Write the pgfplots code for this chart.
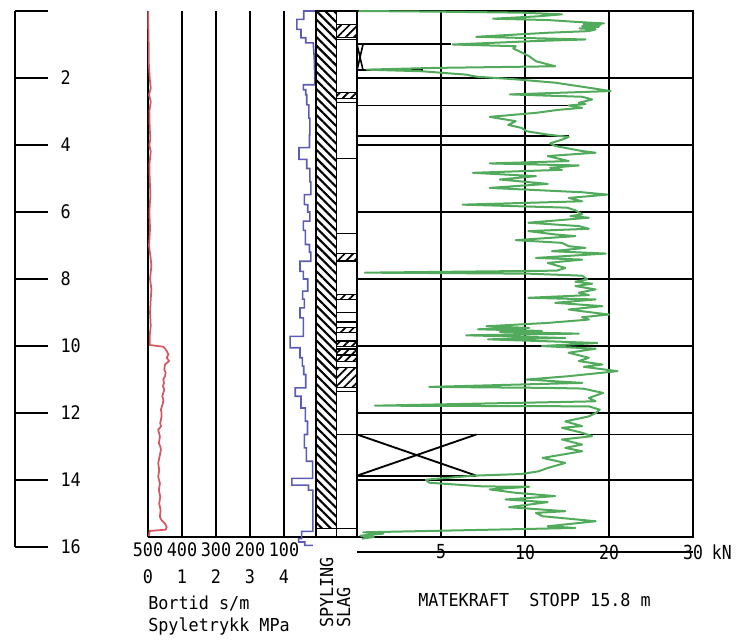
\documentclass[border=0pt]{standalone}
\usepackage{fontspec}
\usepackage{pgfplots}
\pgfplotsset{compat=1.18}
\usetikzlibrary{patterns.meta}

% plotter-like monospaced lettering
\newfontfamily\numfam[FakeStretch=0.9]{DejaVu Sans Mono}
\newfontfamily\txtfam[FakeStretch=0.94]{DejaVu Sans Mono}
\newfontfamily\knfam[FakeStretch=0.85]{DejaVu Sans Mono}
\newcommand\numfont{\numfam\fontsize{14}{16}\selectfont}
\newcommand\txtfont{\txtfam\fontsize{13.4}{16}\selectfont}
\newcommand\knfont{\knfam\fontsize{14.5}{16}\selectfont}

\definecolor{trykkred}{RGB}{214,86,98}
\definecolor{bortidblue}{RGB}{92,92,182}
\definecolor{kraftgreen}{RGB}{82,170,92}

% every log column shares the depth scale 0--15.7 m, depth increasing downwards
\pgfplotsset{
  logpanel/.style={
    scale only axis, anchor=north west, height=394.5pt,
    ymin=-15.7, ymax=0, y filter/.expression={-y},
    clip=false,
    /pgf/number format/assume math mode=true,
  },
}

% hammering (SLAG) intervals and separators in the second column
\newcommand\slagseg[2]{\addplot[draw=black, line width=0.9pt,
  pattern={Lines[angle=45,distance=4.4pt,line width=1.3pt]}]
  coordinates {(1,#1) (2,#1) (2,#2) (1,#2) (1,#1)};}
\newcommand\slagline[1]{\addplot[black, line width=0.9pt] coordinates {(1,#1) (2,#1)};}

\begin{document}
\begin{tikzpicture}[x=0.75pt,y=0.75pt]
\path[use as bounding box] (0,0) rectangle (738,640);

% ---------------- depth scale (m) ----------------
\begin{axis}[
  at={(11.25pt,471.75pt)}, anchor=north west, scale only axis,
  width=24.75pt, height=402pt,
  xmin=0, xmax=1, ymin=-16, ymax=0,
  hide x axis, axis y line=left, axis line style={-, line width=1.2pt},
  ytick={-16,-14,...,0}, yticklabels={16,14,12,10,8,6,4,2,{}},
  tick align=inside, major tick length=24.75pt,
  ytick style={line width=1.2pt, black},
  yticklabel style={font=\numfont, anchor=west, inner sep=0pt, xshift=34pt},
  /pgf/number format/assume math mode=true,
]
\end{axis}

% ---------------- spyletrykk (MPa) ----------------
\begin{axis}[logpanel, at={(111pt,471.75pt)}, width=127.5pt,
  xmin=0, xmax=5,
  axis line style={draw=none}, tick style={draw=none},
  xtick={0,...,4}, ytick=\empty,
  xmajorgrids, major grid style={black, line width=1.3pt},
  xticklabel style={font=\numfont, anchor=center, inner sep=0pt, yshift=-30pt},
]
\addplot[trykkred, line width=1.3pt] coordinates {
(0.01,0) (0.01,0.5) (0.02,1.0) (0.02,1.5) (0.05,2.0) (0.08,2.3) (0.03,2.5)
(0.08,2.7) (0.04,3.0) (0.05,3.5) (0.07,3.8) (0.04,4.0) (0.08,4.2) (0.04,4.6)
(0.05,5.0) (0.07,5.5) (0.04,6.0) (0.06,6.5) (0.03,7.0) (0.08,7.4) (0.10,7.6)
(0.06,8.0) (0.10,8.3) (0.08,8.6) (0.06,9.0) (0.08,9.4) (0.05,9.7) (0.05,9.97)
(0.45,10.02) (0.50,10.08) (0.55,10.15) (0.60,10.25) (0.55,10.35) (0.62,10.45)
(0.50,10.55) (0.48,10.7) (0.52,10.8) (0.50,10.9) (0.45,11.0) (0.47,11.1)
(0.44,11.2) (0.48,11.3) (0.42,11.5) (0.45,11.6) (0.44,11.7) (0.38,11.9)
(0.40,12.0) (0.40,12.1) (0.36,12.3) (0.38,12.4) (0.30,12.5) (0.35,12.7)
(0.32,12.9) (0.36,13.0) (0.38,13.1) (0.34,13.3) (0.30,13.5) (0.33,13.7)
(0.30,13.9) (0.35,14.1) (0.32,14.3) (0.36,14.5) (0.33,14.7) (0.37,14.9)
(0.35,15.1) (0.40,15.2) (0.50,15.3) (0.55,15.4) (0.52,15.48) (0.05,15.52)
(0.02,15.7)
};
\draw[black, line width=1.3pt] (axis description cs:0,0) -- (axis description cs:1,0);
\end{axis}

% ---------------- bortid (s/m), reversed scale ----------------
\begin{axis}[logpanel, at={(111pt,471.75pt)}, width=127.5pt,
  xmin=0, xmax=500, x dir=reverse,
  axis line style={draw=none}, tick style={draw=none},
  xtick={100,200,...,500}, ytick=\empty,
  xticklabel style={font=\numfont, anchor=center, inner sep=0pt, yshift=-9.75pt},
]
\addplot[bortidblue, line width=1.2pt] coordinates {
(8,0) (42,0) (42,0.25) (62,0.25) (62,0.55) (50,0.55) (50,0.80) (36,0.80)
(36,0.95) (14,0.95) (11,1.4) (9,2.2) (43,2.2) (43,2.35) (36,2.35) (36,2.50)
(33,2.50) (33,2.80) (27,2.80) (27,3.20) (24,3.20) (24,3.70) (25,3.70)
(25,4.08) (56,4.08) (56,4.43) (33,4.43) (33,4.70) (24,4.70) (24,5.10)
(21,5.10) (21,5.48) (40,5.48) (40,5.78) (30,5.78) (30,6.00) (24,6.00)
(24,6.27) (43,6.27) (43,6.55) (37,6.55) (37,6.97) (25,6.97) (25,7.20)
(21,7.20) (21,7.47) (53,7.47) (53,7.77) (43,7.77) (43,8.00) (30,8.00)
(30,8.36) (45,8.36) (45,8.60) (40,8.60) (40,8.86) (53,8.86) (53,9.16)
(43,9.16) (43,9.71) (82,9.71) (82,10.05) (53,10.05) (53,10.35) (46,10.35)
(46,10.60) (42,10.60) (42,10.85) (36,10.85) (36,11.25) (67,11.25) (67,11.50)
(50,11.50) (50,11.85) (37,11.85) (37,12.24) (31,12.24) (31,12.64) (40,12.64)
(40,13.04) (34,13.04) (34,13.44) (16,13.44) (16,13.95) (77,13.95) (77,14.15)
(28,14.15) (28,14.30) (15,14.30) (15,15.53) (48,15.53) (48,15.75) (57,15.75)
(57,15.85) (39,15.85) (39,15.95) (15,15.95)
};
\end{axis}

% ---------------- SPYLING / SLAG columns ----------------
\begin{axis}[logpanel, at={(237pt,471.75pt)}, width=30.75pt,
  xmin=0, xmax=2, hide axis,
]
\addplot[draw=black, line width=1.2pt,
  pattern={Lines[angle=-45,distance=4.6pt,line width=1.6pt]}]
  coordinates {(0,0) (1,0) (1,15.45) (0,15.45) (0,0)};
\slagseg{0.40}{0.79}
\slagseg{2.43}{2.61}
\slagseg{7.24}{7.45}
\slagseg{8.46}{8.61}
\slagseg{9.45}{9.60}
\slagseg{9.85}{10.02}
\slagseg{10.09}{10.26}
\slagseg{10.29}{10.46}
\slagseg{10.64}{11.24}
\slagline{0.85}
\slagline{2.73}
\slagline{4.40}
\slagline{6.65}
\slagline{7.48}
\slagline{9.00}
\slagline{9.28}
\slagline{11.36}
\slagline{12.64}
\addplot[black, line width=1.2pt] coordinates {(0,15.45) (2,15.45)};
\draw[black, line width=1.2pt] (axis description cs:0,0) rectangle (axis description cs:1,1);
\draw[black, line width=1.2pt] (axis description cs:0.5,0) -- (axis description cs:0.5,1);
\end{axis}

% ---------------- matekraft (kN), scale 0-10 then 10-30 halved ----------------
\begin{axis}[logpanel, at={(267.75pt,471.75pt)}, width=252pt,
  xmin=0, xmax=20,
  x filter/.expression={x<10 ? x : 10+(x-10)/2},
  axis line style={black, line width=1.3pt},
  xtick={5,10,15,20}, xticklabels={5,10,20,30},
  ytick={-14,-12,...,-2}, yticklabels={},
  grid=major, major grid style={black, line width=1.3pt},
  major tick length=0pt,
  xticklabel style={font=\knfont, anchor=center, inner sep=0pt, yshift=-11.25pt},
]
% rotation marks and stop lines
\addplot[black, line width=1.4pt] coordinates {(0,0.99) (5.6,0.99)};
\addplot[black, line width=1.4pt] coordinates {(0,1.77) (3.9,1.77)};
\addplot[black, line width=1.2pt] coordinates {(0,0.99) (0.36,1.77)};
\addplot[black, line width=1.2pt] coordinates {(0.36,0.99) (0,1.77)};
\addplot[black, line width=1.4pt] coordinates {(0,2.82) (15.5,2.82)};
\addplot[black, line width=1.4pt] coordinates {(0,3.74) (15.2,3.74)};
\addplot[black, line width=1.4pt] coordinates {(0,12.64) (30,12.64)};
\addplot[black, line width=1.4pt] coordinates {(0,13.87) (7.1,13.87)};
\addplot[black, line width=1.4pt] coordinates {(0,12.64) (7.1,13.87)};
\addplot[black, line width=1.4pt] coordinates {(7.1,12.64) (0,13.87)};
\addplot[kraftgreen, line width=1.5pt, line join=round] coordinates {
(0.1,0.0) (4.9,0.02) (9.8,0.05) (14.4,0.1) (11.5,0.16) (8.1,0.23) (12.7,0.27)
(16.4,0.33) (19.4,0.37) (17.0,0.39) (19.0,0.41) (16.8,0.45) (18.8,0.47)
(17.2,0.49) (18.4,0.5) (16.5,0.52) (18.4,0.55) (17.6,0.6) (12.7,0.65)
(7.1,0.77) (17.2,0.85) (10.9,0.9) (5.7,1.0) (9.45,1.05) (9.3,1.12) (9.65,1.2)
(10.5,1.35) (11.3,1.5) (13.6,1.65) (4.5,1.7) (0.57,1.75) (3.9,1.8) (6.5,1.9)
(7.1,1.96) (9.45,2.04) (13.6,2.14) (16.8,2.26) (20.2,2.39) (9.1,2.49)
(16.8,2.56) (18.0,2.64) (16.4,2.74) (17.2,2.78) (15.2,2.82) (16.8,2.89)
(14.0,2.95) (11.3,3.04) (7.9,3.16) (9.45,3.29) (9.0,3.4) (9.8,3.49)
(10.2,3.59) (12.7,3.69) (15.2,3.76) (14.4,3.84) (13.0,3.95) (13.6,4.03)
(16.8,4.18) (18.4,4.23) (12.7,4.33) (15.2,4.48) (7.9,4.55) (16.4,4.61)
(13.0,4.68) (14.4,4.74) (6.9,4.83) (11.3,4.93) (8.5,5.03) (12.7,5.16)
(7.9,5.28) (16.8,5.41) (19.8,5.48) (15.2,5.58) (16.8,5.68) (6.3,5.78)
(15.0,5.87) (16.0,5.95) (16.8,6.07) (15.4,6.12) (17.6,6.17) (10.4,6.32)
(16.4,6.42) (17.6,6.5) (10.4,6.57) (13.6,6.67) (16.0,6.72) (9.45,6.84)
(14.4,6.92) (15.2,7.02) (17.2,7.07) (13.2,7.17) (19.6,7.24) (11.3,7.37)
(16.8,7.42) (12.7,7.52) (14.8,7.67) (13.8,7.75) (0.47,7.81) (4.2,7.82)
(10.4,7.84) (16.8,7.9) (17.4,8.01) (16.0,8.08) (18.0,8.14) (16.0,8.21)
(18.4,8.31) (16.4,8.41) (17.6,8.48) (10.4,8.56) (18.4,8.61) (13.6,8.71)
(19.2,8.81) (15.2,8.91) (17.4,8.98) (20.0,9.06) (16.8,9.14) (17.6,9.21)
(12.7,9.31) (7.7,9.41) (10.5,9.46) (7.2,9.5) (12.0,9.55) (8.5,9.58)
(16.4,9.63) (6.5,9.68) (8.8,9.71) (14.8,9.76) (7.8,9.8) (9.5,9.83)
(13.0,9.86) (18.6,9.91) (12.0,10.0) (18.4,10.08) (15.2,10.2) (17.6,10.35)
(16.4,10.45) (19.2,10.55) (17.0,10.62) (21.0,10.75) (15.2,10.9) (10.2,11.0)
(16.8,11.1) (4.3,11.22) (13.0,11.25) (16.9,11.27) (19.3,11.4) (17.6,11.55)
(18.4,11.65) (1.07,11.78) (17.6,11.8) (18.9,11.9) (18.4,12.0) (17.6,12.1)
(14.8,12.25) (16.8,12.39) (14.4,12.44) (16.8,12.59) (18.0,12.69) (14.4,12.79)
(16.8,12.94) (14.8,13.04) (16.8,13.14) (12.1,13.34) (14.8,13.49) (12.7,13.64)
(11.6,13.74) (9.8,13.82) (6.9,13.87) (4.1,13.99) (4.3,14.08) (7.5,14.19)
(10.5,14.2) (7.9,14.28) (9.45,14.38) (13.6,14.48) (8.85,14.58) (12.7,14.66)
(9.05,14.81) (14.8,14.93) (11.3,14.98) (12.1,15.08) (18.4,15.23) (12.7,15.38)
(16.0,15.43) (0.37,15.56) (1.56,15.6) (0.2,15.66) (1.0,15.7) (0.3,15.75)
};
\draw[black, line width=1.1pt] ([yshift=-11.25pt]axis description cs:0,0)
  -- ([yshift=-11.25pt]axis description cs:1,0);
\node[font=\knfont, anchor=west, inner sep=0pt]
  at ([xshift=14pt, yshift=-11.25pt]axis description cs:1,0) {kN};
\end{axis}

% ---------------- captions ----------------
\node[font=\txtfont, anchor=base west, inner sep=0pt] at (148,31) {Bortid s/m};
\node[font=\txtfont, anchor=base west, inner sep=0pt] at (148,9) {Spyletrykk MPa};
\node[font=\txtfont, anchor=base west, inner sep=0pt] at (418,34) {MATEKRAFT\ \ STOPP 15.8 m};
\node[font=\txtfont, anchor=base west, inner sep=0pt, rotate=90] at (333,12) {SPYLING};
\node[font=\txtfont, anchor=base west, inner sep=0pt, rotate=90] at (350,12) {SLAG};
\end{tikzpicture}
\end{document}
